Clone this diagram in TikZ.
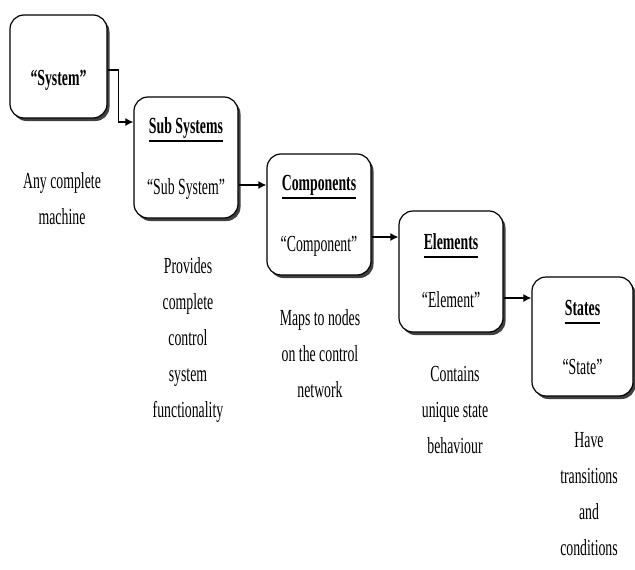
\documentclass[tikz,border=0pt]{standalone}
\usepackage{fontspec}
\setmainfont[FakeStretch=0.6]{Liberation Serif}
\usetikzlibrary{calc,shadows,arrows.meta}

\begin{document}
\begin{tikzpicture}[x=1pt,y=-1pt,
    level/.style={draw,line width=1.2pt,rounded corners=14pt,fill=white,
      drop shadow={shadow xshift=2.5pt,shadow yshift=-3pt,fill=black,opacity=0.75},
      minimum width=104pt,minimum height=121pt,inner sep=0pt},
    ttl/.style={font=\fontsize{23}{26}\selectfont\bfseries,inner sep=0pt,anchor=base},
    qt/.style={font=\fontsize{23}{26}\selectfont,inner sep=0pt,anchor=base},
    note/.style={font=\fontsize{23}{36}\selectfont,align=center,inner sep=0pt,anchor=north},
    uline/.style={line width=2.6pt},
    link/.style={line width=1.3pt,-{Latex[length=8pt,width=8pt]}}]
            \useasboundingbox (0,0) rectangle (635,570);

            % the five levels
            \node[level,minimum width=97pt,minimum height=103pt] (sys) at (58.5,66.5) {};
            \node[level] (sub) at (186,157.5) {};
            \node[level] (comp) at (319,214.5) {};
            \node[level] (elem) at (451,271.5) {};
            \node[level,minimum width=101pt,minimum height=119pt] (st) at (582.5,336.5) {};

            \node[ttl] (sysQ) at ($(sys.center)+(0,19)$) {“System”};
            \node[ttl] (subT) at ($(sub.north)+(0,37)$) {Sub Systems};
            \node[qt] (subQ) at ($(sub.north)+(0,98)$) {“Sub System”};
            \node[ttl] (compT) at ($(comp.north)+(0,37)$) {Components};
            \node[qt] (compQ) at ($(comp.north)+(0,98)$) {“Component”};
            \node[ttl] (elemT) at ($(elem.north)+(0,39)$) {Elements};
            \node[qt] (elemQ) at ($(elem.north)+(0,97)$) {“Element”};
            \node[ttl] (stT) at ($(st.north)+(0,39)$) {States};
            \node[qt] (stQ) at ($(st.north)+(0,98)$) {“State”};

            \foreach \t in {subT,compT,elemT,stT}
              \draw[uline] ($(\t.base west)+(0,7.5)$) -- ($(\t.base east)+(0,7.5)$);

            % descriptions
            \node[note] (sysN) at (62,172) {Any complete\\machine};
            \node[note] (subN) at (188,257) {Provides\\complete\\control\\system\\functionality};
            \node[note] (compN) at (320,309) {Maps to nodes\\on the control\\network};
            \node[note] (elemN) at (455,366) {Contains\\unique state\\behaviour};
            \node[note] (stN) at (589,432) {Have\\transitions\\and\\conditions};

            % links
            \draw[link] ($(sys.east)+(0,3.5)$) -- ++(11,0) |- ($(sub.west)+(0,-35.5)$);
            \draw[link] ($(sub.east)+(0,27.5)$) coordinate (a) -- (a -| comp.west);
            \draw[link] ($(comp.east)+(0,22.5)$) coordinate (b) -- (b -| elem.west);
            \draw[link] ($(elem.east)+(0,26.5)$) coordinate (c) -- (c -| st.west);
          \end{tikzpicture}
\end{document}
